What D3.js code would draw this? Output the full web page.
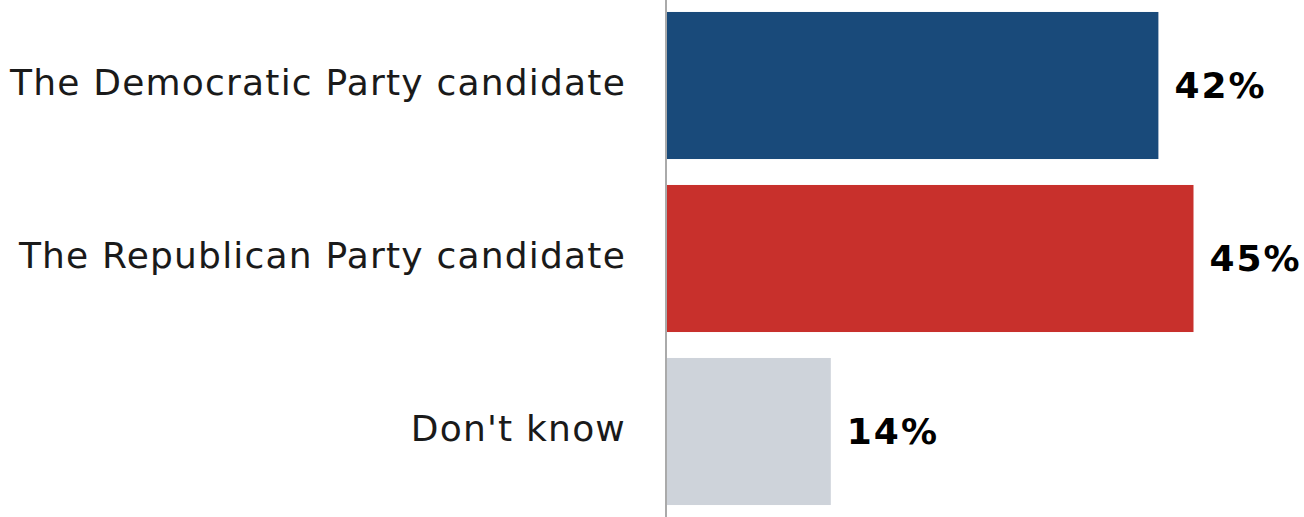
<!DOCTYPE html>
<html lang="en">
<head>
    <meta charset="UTF-8">
    <script src="https://d3js.org/d3.v7.min.js"></script>
    <title>Party candidate</title>
    <style>
        body { margin: 0; background: #fff; }
        svg { display: block; }
    </style>
</head>
<body>
    <script>
        // data
        const categories = ["The Democratic Party candidate", "The Republican Party candidate", "Don't know"];
        const values = [42, 45, 14];
        const colors = ["#194a7a", "#c8302c", "#ced3da"];

        const w = 1304;
        const h = 517;
        const axisX = 667;

        const svg = d3.select("body").append("svg")
            .attr("width", w)
            .attr("height", h);

        const x = d3.scaleLinear()
            .domain([0, 50])
            .range([axisX, axisX + 50 * 11.7]);

        const y = d3.scaleBand()
            .domain(categories)
            .range([-1, 518])
            .paddingInner(0.15)
            .paddingOuter(0.075);

        //bars
        svg.selectAll("rect.bar")
            .data(values)
            .enter()
            .append("rect")
            .attr("class", "bar")
            .attr("x", x(0))
            .attr("y", (d, i) => y(categories[i]))
            .attr("width", d => x(d) - x(0))
            .attr("height", y.bandwidth())
            .attr("fill", (d, i) => colors[i]);

        //vertical axis line
        svg.append("line")
            .attr("x1", x(0) - 1)
            .attr("x2", x(0) - 1)
            .attr("y1", 0)
            .attr("y2", h)
            .attr("stroke", "#aaaaaa")
            .attr("stroke-width", 2);

        //category labels
        svg.selectAll("text.cat")
            .data(categories)
            .enter()
            .append("text")
            .attr("class", "cat")
            .attr("x", 626)
            .attr("y", d => y(d) + y.bandwidth() / 2)
            .attr("dy", "0.25em")
            .attr("text-anchor", "end")
            .style("font-family", "'DejaVu Sans', sans-serif")
            .style("font-size", "36px")
            .style("letter-spacing", "1.2px")
            .attr("fill", "#1a1a1a")
            .text(d => d);

        //value labels
        svg.selectAll("text.val")
            .data(values)
            .enter()
            .append("text")
            .attr("class", "val")
            .attr("x", d => x(d) + 16)
            .attr("y", (d, i) => y(categories[i]) + y.bandwidth() / 2)
            .attr("dy", "0.36em")
            .style("font-family", "'DejaVu Sans', sans-serif")
            .style("font-size", "36px")
            .style("font-weight", "bold")
            .style("letter-spacing", "2px")
            .attr("fill", "#000")
            .text(d => d + "%");
    </script>
</body>
</html>
